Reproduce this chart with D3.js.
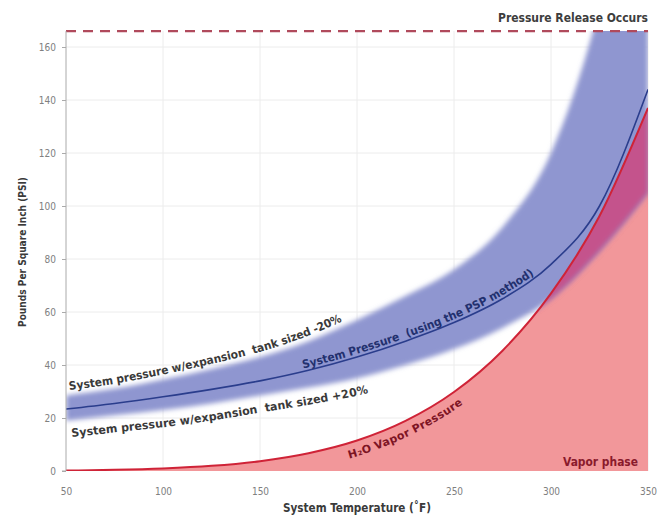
<!DOCTYPE html>
<html>
<head>
<meta charset="utf-8">
<script src="https://cdn.jsdelivr.net/npm/d3@7"></script>
<style>
  html, body { margin: 0; padding: 0; background: #fff; }
  svg { display: block; }
  .cond { font-family: "Liberation Sans Narrow", "DejaVu Sans Condensed", "Roboto Condensed", "Arial Narrow", "Liberation Sans", sans-serif; white-space: pre; }
</style>
</head>
<body>
<svg id="chart" width="665" height="517"></svg>
<script>
// ---- data ----
const temps          = [50, 75, 100, 125, 150, 175, 200, 225, 250, 275, 300, 325, 350];
const vaporPressure  = [0.18, 0.43, 0.95, 1.94, 3.72, 6.72, 11.5, 18.9, 29.8, 45.4, 67.0, 96.2, 137];
const systemPressure = [23.4, 25.5, 28, 30.8, 34, 38, 43, 49, 56, 65, 78, 100, 144];
const tankMinus20    = [28.5, 31, 34.5, 38.5, 43, 49, 57, 66, 76, 92, 120, 175, 260];
const tankPlus20     = [19, 21, 23, 25.5, 28.5, 31.5, 35, 40, 46, 54, 65, 83, 105];
const releasePressure = 166;
const xTicks = [50, 100, 150, 200, 250, 300, 350];
const yTicks = [0, 20, 40, 60, 80, 100, 120, 140, 160];
const labels = {
  release: "Pressure Release Occurs",
  xTitle: "System Temperature (˚F)",
  yTitle: "Pounds Per Square Inch (PSI)",
  upper: "System pressure w/expansion  tank sized -20%",
  lower: "System pressure w/expansion  tank sized +20%",
  center: "System Pressure  (using the PSP method)",
  vapor: "H₂O Vapor Pressure",
  phase: "Vapor phase"
};

const svg = d3.select("#chart");
const x = d3.scaleLinear().domain([50, 350]).range([66, 648]);
const y = d3.scaleLinear().domain([0, 160]).range([471, 47]);
const yTop = y(releasePressure);

const rows = temps.map((t, i) => ({
  t, vap: vaporPressure[i], sys: systemPressure[i], hi: tankMinus20[i], lo: tankPlus20[i]
}));

const defs = svg.append("defs");
defs.append("clipPath").attr("id", "plotClip")
  .append("rect").attr("x", x(50)).attr("y", yTop)
  .attr("width", x(350) - x(50)).attr("height", y(0) - yTop);
const blur = defs.append("filter").attr("id", "soft")
  .attr("x", "-10%").attr("y", "-10%").attr("width", "120%").attr("height", "120%");
blur.append("feGaussianBlur").attr("stdDeviation", 2.4);

const curve = d3.curveMonotoneX;
const redArea = d3.area().curve(curve).x(d => x(d.t)).y0(y(0)).y1(d => y(d.vap));
const bandArea = d3.area().curve(curve).x(d => x(d.t)).y0(d => y(d.lo)).y1(d => y(d.hi));
const lineOf = key => d3.line().curve(curve).x(d => x(d.t)).y(d => y(d[key]));

defs.append("clipPath").attr("id", "redClip").append("path").attr("d", redArea(rows));

// gridlines
const grid = svg.append("g");
grid.selectAll(".hg").data(yTicks.filter(v => v > 0)).join("line")
  .attr("x1", x(50)).attr("x2", x(350)).attr("y1", d => y(d)).attr("y2", d => y(d))
  .attr("stroke", "#ececec").attr("stroke-width", 1);
grid.selectAll(".vg").data(xTicks.filter(v => v > 50)).join("line")
  .attr("x1", d => x(d)).attr("x2", d => x(d)).attr("y1", yTop).attr("y2", y(0))
  .attr("stroke", "#ececec").attr("stroke-width", 1);

const plot = svg.append("g").attr("clip-path", "url(#plotClip)");
plot.append("path").attr("d", redArea(rows)).attr("fill", "#f2979a");
plot.append("g").append("path").attr("d", bandArea(rows))
  .attr("fill", "#8f96d0").attr("filter", "url(#soft)");
plot.append("g").attr("clip-path", "url(#redClip)")
  .append("path").attr("d", bandArea(rows))
  .attr("fill", "#c4528c").attr("filter", "url(#soft)");
plot.append("path").attr("d", lineOf("vap")(rows))
  .attr("fill", "none").attr("stroke", "#cf2337").attr("stroke-width", 2);
plot.append("path").attr("d", lineOf("sys")(rows))
  .attr("fill", "none").attr("stroke", "#2a3d8c").attr("stroke-width", 1.6);

// release line
svg.append("line").attr("x1", x(50)).attr("x2", x(350))
  .attr("y1", yTop).attr("y2", yTop)
  .attr("stroke", "#b04a5c").attr("stroke-width", 2.2).attr("stroke-dasharray", "10,7");

// y axis
const yAxis = d3.axisLeft(y).tickValues(yTicks).tickSize(4).tickPadding(6);
const ya = svg.append("g").attr("transform", `translate(${x(50)},0)`).call(yAxis);
ya.select(".domain").attr("stroke", "#aaa").attr("d", `M-4,${y(0)}H0V${yTop}`);
ya.selectAll(".tick line").attr("stroke", "#aaa");
ya.selectAll(".tick text").attr("fill", "#808080").attr("font-size", 10).attr("class", "cond");

// x axis
const xAxis = d3.axisBottom(x).tickValues(xTicks).tickSize(0).tickPadding(17);
const xa = svg.append("g").attr("transform", `translate(0,${y(0)})`).call(xAxis);
xa.select(".domain").remove();
xa.selectAll(".tick text").attr("fill", "#808080").attr("font-size", 10).attr("class", "cond");

// titles
svg.append("text").attr("class", "cond").attr("x", 357).attr("y", 512)
  .attr("text-anchor", "middle").attr("font-size", 12).attr("font-weight", "bold")
  .attr("fill", "#3a3a3a").attr("textLength", 148).attr("lengthAdjust", "spacingAndGlyphs")
  .text(labels.xTitle);
svg.append("text").attr("class", "cond")
  .attr("transform", "translate(26,252) rotate(-90)")
  .attr("text-anchor", "middle").attr("font-size", 10.5).attr("font-weight", "bold")
  .attr("fill", "#3a3a3a").attr("textLength", 150).attr("lengthAdjust", "spacingAndGlyphs")
  .text(labels.yTitle);
svg.append("text").attr("class", "cond").attr("x", 648).attr("y", 22)
  .attr("text-anchor", "end").attr("font-size", 12.5).attr("font-weight", "bold")
  .attr("fill", "#3d3d3d").attr("textLength", 150).attr("lengthAdjust", "spacingAndGlyphs")
  .text(labels.release);
svg.append("text").attr("class", "cond").attr("x", 563).attr("y", 466)
  .attr("font-size", 13).attr("font-weight", "bold")
  .attr("fill", "#8a1a2c").attr("textLength", 75).attr("lengthAdjust", "spacingAndGlyphs")
  .text(labels.phase);

// curved labels: each word placed along the curve, compressed uniformly
function lengthAtX(node, tx) {
  let lo = 0, hi = node.getTotalLength();
  for (let i = 0; i < 40; i++) {
    const mid = (lo + hi) / 2;
    if (node.getPointAtLength(mid).x < tx) lo = mid; else hi = mid;
  }
  return lo;
}
function measure(str, size) {
  const t = svg.append("text").attr("class", "cond").attr("font-size", size)
    .attr("font-weight", "bold").text(str);
  const w = t.node().getComputedTextLength();
  t.remove();
  return w;
}
function curveLabel(id, key, text, startX, total, dy, size, color) {
  const p = defs.append("path").attr("id", id).attr("d", lineOf(key)(rows));
  const natural = measure(text, size);
  const k = total / natural;
  const space = measure("a b", size) - measure("ab", size);
  let off = lengthAtX(p.node(), startX);
  const parts = text.split(/( +)/);
  parts.forEach(part => {
    if (!part) return;
    if (/^ +$/.test(part)) { off += part.length * space * k; return; }
    const w = measure(part, size) * k;
    svg.append("text").attr("class", "cond").attr("font-size", size)
      .attr("font-weight", "bold").attr("fill", color).attr("dy", dy)
      .append("textPath").attr("href", "#" + id).attr("startOffset", off)
      .attr("textLength", w).attr("lengthAdjust", "spacingAndGlyphs")
      .text(part);
    off += w;
  });
}
curveLabel("pHi", "hi", labels.upper, 70, 284, -5, 11.5, "#3a3a3a");
curveLabel("pLo", "lo", labels.lower, 70, 298, 17, 11.5, "#3a3a3a");
curveLabel("pSys", "sys", labels.center, 304, 252, -3, 11.5, "#22306e");
curveLabel("pVap", "vap", labels.vapor, 345, 122, 15, 11, "#7d1424");
</script>
</body>
</html>
